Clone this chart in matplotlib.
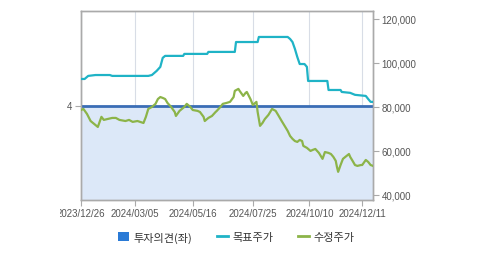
import matplotlib
matplotlib.use("Agg")
import matplotlib.pyplot as plt
from matplotlib.lines import Line2D
from matplotlib.patches import Patch
from matplotlib.transforms import Bbox

plt.rcParams['font.family'] = ['Liberation Sans', 'Noto Sans CJK KR', 'DejaVu Sans']

# trading-day index and adjusted close (수정주가)
price_day = [0, 2, 5, 8, 12, 14, 17, 19, 22, 26, 29, 32, 37, 40, 43, 47, 52, 54, 56, 59,
             62, 64, 66, 68, 70, 72, 75, 78, 79, 82, 86, 88, 91, 93, 97, 99, 102, 103, 106, 109,
             112, 113, 116, 118, 121, 124, 127, 128, 131, 132, 135, 137, 138, 141, 143, 146, 147, 149, 151, 153,
             156, 159, 162, 164, 167, 170, 172, 174, 176, 178, 180, 182, 184, 185, 188, 191, 193, 195, 198, 201,
             203, 206, 208, 210, 212, 213, 214, 216, 218, 220, 223, 224, 226, 228, 230, 233, 234, 237, 239, 241, 243]
price = [78600, 79100, 76800, 73600, 71800, 70900, 75500, 74100, 74500, 75000, 75000, 74100, 73600, 74100, 73200, 73600, 72700, 75500, 79100, 80000,
         81400, 83600, 84500, 84100, 83600, 81800, 80000, 77700, 75900, 78200, 80000, 81400, 80000, 78600, 78200, 77700, 75500, 73600, 75000, 75900,
         77700, 78200, 80000, 81400, 81800, 82300, 84500, 87300, 88200, 87300, 85000, 86400, 86800, 83600, 80900, 82300, 77700, 71400, 72700, 74500,
         76400, 79100, 78200, 76400, 73600, 70900, 69100, 66800, 65500, 64500, 64100, 65000, 64500, 62300, 61400, 60000, 60500, 60900, 59100, 56400,
         59500, 59100, 58600, 57300, 55500, 52700, 50500, 53600, 56400, 57300, 58600, 57300, 55500, 53600, 53200, 53600, 53600, 55900, 55000, 53600, 53200]

# target price (목표주가)
target_day = [0, 3, 6, 12, 24, 26, 56, 59, 63, 66, 68, 70, 85, 86, 105, 106, 128, 129, 147, 148,
              172, 174, 176, 178, 180, 182, 186, 188, 189, 205, 206, 216, 217, 224, 228, 237, 239, 241, 243]
target = [92700, 92700, 94100, 94500, 94500, 94100, 94100, 94500, 96400, 98200, 102300, 103200, 103200, 104100, 104100, 105000, 105000, 109500, 109500, 111800,
          111800, 110900, 109500, 106400, 102700, 99500, 99500, 98200, 91800, 91800, 87700, 87700, 86800, 86400, 85500, 85000, 83600, 82300, 82300]

# investment opinion (투자의견, left axis)
opinion_day = [0, 243]
opinion = [4, 4]

tick_days = [0, 45, 93, 143, 190, 234]
tick_labels = ['2023/12/26', '2024/03/05', '2024/05/16', '2024/07/25', '2024/10/10', '2024/12/11']
right_ticks = [40000, 60000, 80000, 100000, 120000]

fig = plt.figure(figsize=(4.79, 2.55), dpi=100)
ax = fig.add_axes([81/479, 54/255, 292/479, 189/255])
ax2 = ax.twinx()

grey = '#aaaaaa'
txt = '#555555'

ax.fill_between(opinion_day, opinion, 0, color='#dce8f8', lw=0, zorder=1)
ax.plot(opinion_day, opinion, color='#3a6db5', lw=2, zorder=3)
ax.set_ylim(0, 8)
ax.set_xlim(0, 243)
ax.set_yticks([4])
ax.set_yticklabels(['4'])
ax.set_xticks(tick_days)
ax.set_xticklabels(tick_labels)
ax.grid(axis='x', color='#d8dde6', lw=0.8)
ax.set_axisbelow(True)
ax.tick_params(axis='both', colors=grey, labelcolor=txt, labelsize=7, length=4, width=0.8, pad=2)

ax2.plot(target_day, target, color='#1fb3c6', lw=1.6, zorder=4)
ax2.plot(price_day, price, color='#8cb449', lw=1.6, zorder=5)
ax2.set_ylim(37700, 123600)
ax2.set_yticks(right_ticks)
ax2.set_yticklabels([f'{v:,}' for v in right_ticks])
ax2.tick_params(axis='y', colors=grey, labelcolor=txt, labelsize=7, length=4, width=0.8, pad=2)

for a in (ax, ax2):
    for s in a.spines.values():
        s.set_color(grey)
        s.set_linewidth(1)

# the first date label is cut at the left, as in the reference
first = ax.get_xticklabels()[0]
first.set_clip_on(True)
first.set_clip_box(Bbox([[60, 0], [479, 255]]))

handles = [Patch(facecolor='#2a7ad6', edgecolor='none'),
           Line2D([0], [0], color='#1fb3c6', lw=2),
           Line2D([0], [0], color='#8cb449', lw=2)]
labels = ['투자의견(좌)', '목표주가', '수정주가']
leg = fig.legend(handles, labels, loc='center', bbox_to_anchor=(236/479, 1 - 238/255), ncol=3,
                 frameon=False, handlelength=1.0, handleheight=0.9, handletextpad=0.4,
                 columnspacing=2.2, prop={'family': ['Noto Sans CJK KR'], 'size': 8})
for t in leg.get_texts():
    t.set_color('#333333')

fig.savefig('out.png', dpi=100)
